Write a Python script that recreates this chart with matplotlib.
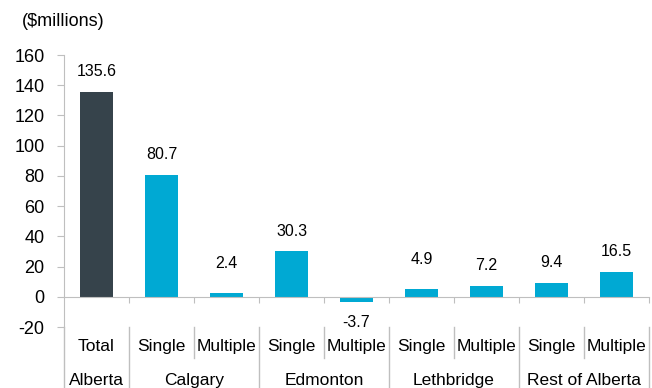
import matplotlib
matplotlib.use("Agg")
import matplotlib.pyplot as plt

# chart data
sub_labels = ["Total", "Single", "Multiple", "Single", "Multiple",
              "Single", "Multiple", "Single", "Multiple"]
group_names = ["Alberta", "Calgary", "Edmonton", "Lethbridge", "Rest of Alberta"]
group_sizes = [1, 2, 2, 2, 2]
values = [135.6, 80.7, 2.4, 30.3, -3.7, 4.9, 7.2, 9.4, 16.5]
yticks = [-20, 0, 20, 40, 60, 80, 100, 120, 140, 160]

DARK = "#36434b"
BLUE = "#00a9d3"
GRID = "#bfbfbf"

plt.rcParams["font.family"] = ["Liberation Sans", "DejaVu Sans"]
plt.rcParams["axes.unicode_minus"] = False

fig = plt.figure(figsize=(6.52, 3.88), dpi=100)
ax = fig.add_axes([0.0982, 0.1572, 0.8972, 0.701])

x = list(range(len(values)))
colors = [DARK] + [BLUE] * (len(values) - 1)
ax.bar(x, values, width=0.5, color=colors, zorder=2)

# value labels
for xi, v in zip(x, values):
    if v < 0:
        off = -20
    elif v < 5:
        off = 30
    else:
        off = 20
    ax.annotate("%.1f" % v, (xi, v), xytext=(0, off * 0.72),
                textcoords="offset points", ha="center", va="center",
                fontsize=11.5, color="black")

ax.set_xlim(-0.5, len(values) - 0.5)
ax.set_ylim(-20, 160)
ax.set_yticks(yticks)
ax.tick_params(axis="y", labelsize=13, length=5, color=GRID, pad=9)

# zero line with ticks at the group boundaries
ax.spines["bottom"].set_position(("data", 0))
ax.spines["bottom"].set_color(GRID)
ax.spines["left"].set_color(GRID)
ax.spines["top"].set_visible(False)
ax.spines["right"].set_visible(False)
bounds = [i + 0.5 for i in range(len(values))]
ax.set_xticks(bounds)
ax.set_xticklabels([])
ax.tick_params(axis="x", length=4, color=GRID, direction="out")

# two-level category axis below the plot
tr = ax.get_xaxis_transform()
row1_y, row2_y = -0.0735, -0.195
short_bottom, long_bottom = -0.114, -0.224
for xi, lab in zip(x, sub_labels):
    ax.text(xi, row1_y, lab, transform=tr, ha="center", va="center",
            fontsize=12.5, clip_on=False)
start = 0
edges = [-0.5]
for name, n in zip(group_names, group_sizes):
    mid = start + (n - 1) / 2.0
    ax.text(mid, row2_y, name, transform=tr, ha="center", va="center",
            fontsize=12.5, clip_on=False)
    for k in range(1, n):
        ax.plot([start + k - 0.5] * 2, [0, short_bottom], transform=tr,
                color=GRID, lw=1, clip_on=False)
    start += n
    edges.append(start - 0.5)
for e in edges:
    ax.plot([e, e], [0, long_bottom], transform=tr, color=GRID, lw=1,
            clip_on=False)

fig.text(22 / 652, 1 - 21 / 388, "($millions)", fontsize=13,
         ha="left", va="center")

fig.savefig("out.png", dpi=100)
